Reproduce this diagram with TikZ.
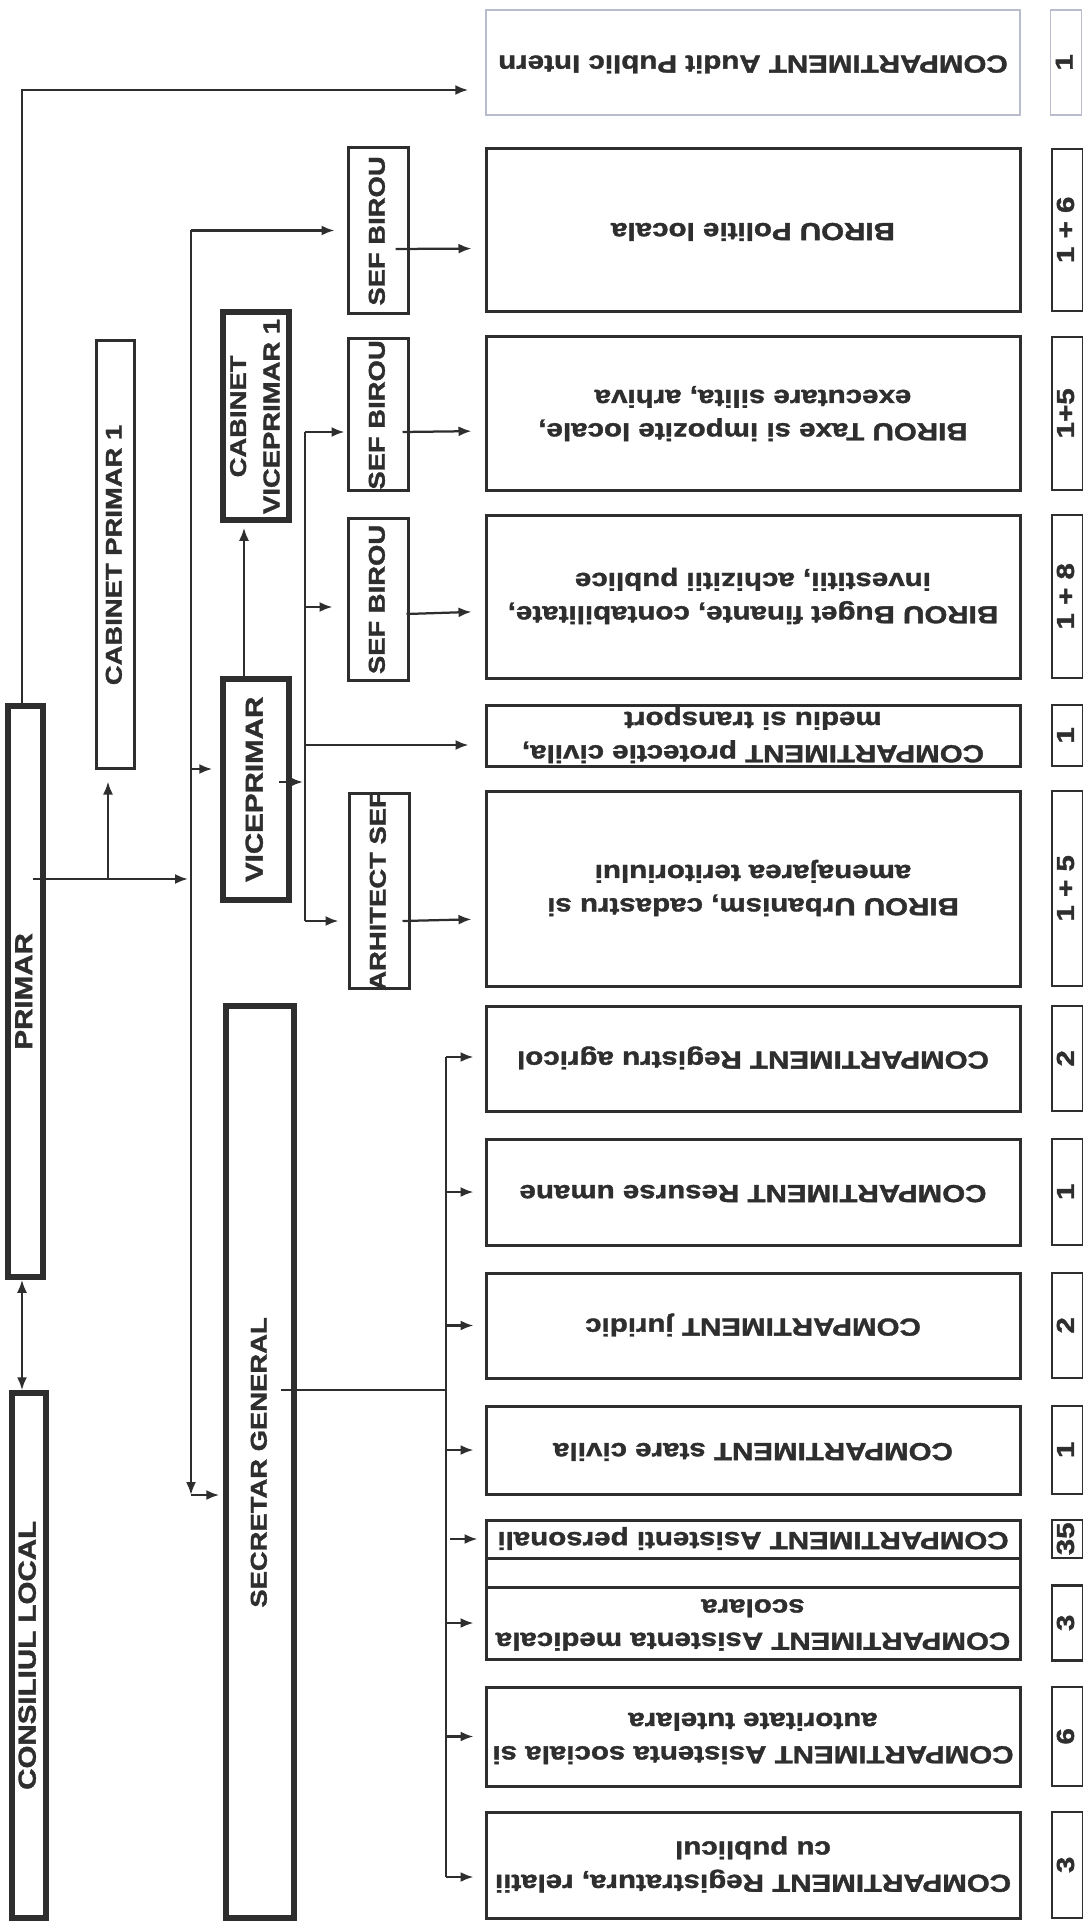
\documentclass[tikz,border=0pt]{standalone}
\usepackage{graphicx}
\usepackage{fontspec}
\setmainfont{Liberation Sans}[FakeStretch=1.2, BoldFeatures={FakeBold=1.5}]
\usetikzlibrary{arrows.meta,positioning}
\colorlet{ink}{black!82}
\definecolor{pale}{RGB}{185,188,205}
\newcommand{\orgfont}[1][14]{\fontsize{#1}{19}\selectfont\bfseries}
\newcommand{\ulab}[1]{\makebox[0pt]{\raisebox{-0.25em}[0pt][0pt]{\rotatebox[origin=c]{180}{\begin{tabular}{@{}c@{}}#1\end{tabular}}}}}
\newcommand{\vlab}[1]{\makebox[0pt]{\raisebox{-0.25em}[0pt][0pt]{\rotatebox[origin=c]{90}{\begin{tabular}{@{}c@{}}#1\end{tabular}}}}}
\tikzset{
  box/.style={draw=ink, line width=0.6mm, inner sep=0pt, minimum width=106.8mm, font=\orgfont, text=ink},
  cnt/.style={draw=ink, line width=0.5mm, inner sep=0pt, minimum width=6.2mm, font=\orgfont, text=ink},
  chief/.style={draw=ink, line width=1.1mm, inner sep=0pt, font=\orgfont, text=ink},
  sef/.style={draw=ink, line width=0.6mm, inner sep=0pt, minimum width=12mm, font={\orgfont[13]}, text=ink},
  link/.style={ink, line width=0.45mm},
  arr/.style={link, ->, shorten >=2.4mm},
}
\begin{document}
\begin{tikzpicture}[x=0.2mm, y=-0.2mm, >={Latex[length=2.6mm,width=2mm]}]
	\useasboundingbox (0,0) rectangle (1082,1921);
	% left column
	\node[chief, minimum width=6.8mm, minimum height=105mm] (consiliul) at (29,1655.5) {\vlab{CONSILIUL LOCAL}};
	\node[chief, minimum width=7mm, minimum height=114.2mm] (primar) at (25.5,991.5) {\vlab{PRIMAR}};
	\node[sef, minimum width=7.6mm, minimum height=85.4mm] (cabprimar) at (115,554.5) {\vlab{CABINET PRIMAR 1}};
	\node[chief, minimum width=13.2mm, minimum height=44.2mm] (viceprimar) at (256,789.5) {\vlab{VICEPRIMAR}};
	\node[chief, font={\orgfont[13]}, minimum width=13.2mm, minimum height=41.6mm] (cabvice) at (256,416) {\vlab{CABINET\\VICEPRIMAR 1}};
	\node[chief, font={\orgfont[13]}, minimum width=13.6mm, minimum height=182.4mm] (secretar) at (260,1462) {\vlab{SECRETAR GENERAL}};
	\node[sef, minimum height=33mm] (sefpol) at (378,230.5) {\vlab{SEF BIROU}};
	\node[sef, minimum height=30.2mm] (seftaxe) at (378,414.5) {\vlab{SEF BIROU}};
	\node[sef, minimum height=32.4mm] (sefbug) at (378,599) {\vlab{SEF BIROU}};
	\node[sef, minimum height=39mm] (arhitect) at (379,890.5) {\vlab{ARHITECT SEF}};
	% compartments
	\node[box, draw=pale, line width=0.3mm, minimum height=21mm] (audit) at (753,62.5) {\ulab{COMPARTIMENT Audit Public Intern}};
	\node[box, minimum height=32.4mm] (politie) at (753,230) {\ulab{BIROU Politie locala}};
	\node[box, minimum height=30.6mm] (taxe) at (753,413.5) {\ulab{BIROU Taxe si impozite locale,\\executare silita, arhiva}};
	\node[box, minimum height=32.6mm] (buget) at (753,596.5) {\ulab{BIROU Buget finante, contabilitate,\\investitii, achizitii publice}};
	\node[box, minimum height=12.2mm] (protectie) at (753,735.5) {\ulab{COMPARTIMENT protectie civila,\\mediu si transport}};
	\node[box, minimum height=39mm] (urbanism) at (753,888.5) {\ulab{BIROU Urbanism, cadastru si\\amenajarea teritoriului}};
	\node[box, minimum height=21mm] (agricol) at (753,1058.5) {\ulab{COMPARTIMENT Registru agricol}};
	\node[box, minimum height=21.2mm] (resurse) at (753,1192) {\ulab{COMPARTIMENT Resurse umane}};
	\node[box, minimum height=21mm] (juridic) at (753,1325.5) {\ulab{COMPARTIMENT juridic}};
	\node[box, minimum height=17.6mm] (stare) at (753,1450) {\ulab{COMPARTIMENT stare civila}};
	\node[box, minimum height=7.6mm] (personali) at (753,1539) {\ulab{COMPARTIMENT Asistenti personali}};
	\node[box, minimum height=5.8mm] (gol) at (753,1572.5) {};
	\node[box, minimum height=14.4mm] (medicala) at (753,1623) {\ulab{COMPARTIMENT Asistenta medicala\\scolara}};
	\node[box, minimum height=19.8mm] (sociala) at (753,1736.5) {\ulab{COMPARTIMENT Asistenta sociala si\\autoritate tutelara}};
	\node[box, minimum height=21.2mm] (registratura) at (753,1865) {\ulab{COMPARTIMENT Registratura, relatii\\cu publicul}};
	% staff numbers
	\node[cnt, draw=pale, line width=0.3mm, minimum height=21mm, right=5.8mm of audit] (naudit) {\vlab{1}};
	\node[cnt, minimum height=32.4mm, right=5.8mm of politie] (npolitie) {\vlab{1 + 6}};
	\node[cnt, minimum height=30.6mm, right=5.8mm of taxe] (ntaxe) {\vlab{1+5}};
	\node[cnt, minimum height=32.6mm, right=5.8mm of buget] (nbuget) {\vlab{1 + 8}};
	\node[cnt, minimum height=12.2mm, right=5.8mm of protectie] (nprotectie) {\vlab{1}};
	\node[cnt, minimum height=39mm, right=5.8mm of urbanism] (nurbanism) {\vlab{1 + 5}};
	\node[cnt, minimum height=21mm, right=5.8mm of agricol] (nagricol) {\vlab{2}};
	\node[cnt, minimum height=21.2mm, right=5.8mm of resurse] (nresurse) {\vlab{1}};
	\node[cnt, minimum height=21mm, right=5.8mm of juridic] (njuridic) {\vlab{2}};
	\node[cnt, minimum height=17.6mm, right=5.8mm of stare] (nstare) {\vlab{1}};
	\node[cnt, minimum height=7.6mm, right=5.8mm of personali] (npersonali) {\vlab{35}};
	\node[cnt, minimum height=15mm, right=5.8mm of medicala] (nmedicala) {\vlab{3}};
	\node[cnt, minimum height=19.8mm, right=5.8mm of sociala] (nsociala) {\vlab{6}};
	\node[cnt, minimum height=21.2mm, right=5.8mm of registratura] (nregistratura) {\vlab{3}};
	% junctions
	\coordinate (ptop) at (22,90);
	\coordinate (pout) at (33,879);
	\coordinate (cabjoin) at (108,879);
	\coordinate (bustop) at (191,230.5);
	\coordinate (busbot) at (191,1495);
	\coordinate (vin) at (191,769);
	\coordinate (vout) at (279,782);
	\coordinate (vbtop) at (305,432);
	\coordinate (vbmid) at (305,607);
	\coordinate (vbciv) at (305,745);
	\coordinate (vbbot) at (305,921);
	\coordinate (sgout) at (281,1390);
	\coordinate (sgtop) at (446,1057);
	\coordinate (sgbot) at (446,1877);
	% primar
	\draw[arr, shorten >=3.4mm] (ptop |- primar.north) -- (ptop) -- (ptop -| audit.west);
	\draw[link, <->] (ptop |- consiliul.north) -- (ptop |- primar.south);
	\draw[arr, shorten >=0.6mm] (pout) -- (pout -| bustop);
	\draw[arr] (cabjoin) -- (cabjoin |- cabprimar.south);
	\draw[arr, shorten >=0pt] (bustop) -- (busbot);
	\draw[arr] (bustop) -- (bustop -| sefpol.west);
	\draw[arr, shorten >=0.8mm] (busbot) -- (busbot -| secretar.west);
	\draw[arr, shorten >=1.6mm] (vin) -- (vin -| viceprimar.west);
	% viceprimar
	\draw[arr, shorten >=1mm] ([xshift=-2.4mm]viceprimar.north) -- ([xshift=-2.4mm]cabvice.south);
	\draw[link] (vbtop) -- (vbbot);
	\draw[arr, shorten >=0.4mm] (vout) -- (vout -| vbtop);
	\draw[arr, shorten >=0.4mm] (vbtop) -- (vbtop -| seftaxe.west);
	\draw[arr, shorten >=2.8mm] (vbmid) -- (vbmid -| sefbug.west);
	\draw[arr, shorten >=3.2mm] (vbciv) -- (vbciv -| protectie.west);
	\draw[arr, shorten >=1.8mm] (vbbot) -- (vbbot -| arhitect.west);
	\draw[arr, shorten >=2.6mm] ([shift={(-2.8mm,-3.7mm)}]sefpol.east) -- ([yshift=-3.7mm]politie.west);
	\draw[arr, shorten >=2.6mm] ([shift={(-1.4mm,-3.5mm)}]seftaxe.east) -- ([yshift=-3.5mm]taxe.west);
	\draw[arr, shorten >=2.6mm] ([shift={(-0.6mm,-3mm)}]sefbug.east) -- ([yshift=-3mm]buget.west);
	\draw[arr, shorten >=2.6mm] ([shift={(-1.6mm,-6.1mm)}]arhitect.east) -- ([yshift=-6.1mm]urbanism.west);
	% secretar general
	\draw[link] (sgout) -- (sgout -| sgtop);
	\draw[link] (sgtop) -- (sgbot);
	\draw[arr, shorten >=2.2mm] (sgtop) -- (sgtop -| agricol.west);
	\draw[arr, shorten >=2.2mm] (sgtop |- resurse) -- (resurse.west);
	\draw[arr, shorten >=2.2mm] (sgtop |- juridic) -- (juridic.west);
	\draw[arr, shorten >=2.2mm] (sgtop |- stare) -- (stare.west);
	\draw[arr, shorten >=1.4mm] ([xshift=0.8mm]sgtop |- personali) -- (personali.west);
	\draw[arr, shorten >=2.2mm] (sgtop |- medicala) -- (medicala.west);
	\draw[arr, shorten >=2.2mm] (sgtop |- sociala) -- (sociala.west);
	\draw[arr, shorten >=2.2mm] (sgbot) -- (sgbot -| registratura.west);
\end{tikzpicture}
\end{document}
